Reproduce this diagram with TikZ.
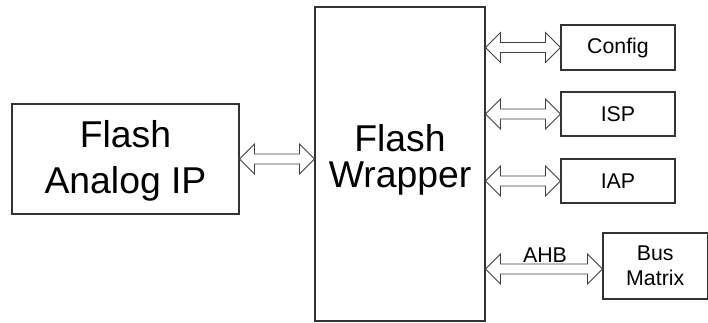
\documentclass[tikz,border=0pt]{standalone}
\usepackage{fontspec}
\setmainfont{Liberation Sans}
\usetikzlibrary{calc}
\tikzset{
  blk/.style={draw=black!80, line width=0.8pt, inner sep=0pt, fill=white},
  bigtxt/.style={font=\fontsize{28pt}{35pt}\selectfont, align=center, inner sep=0pt},
  smalltxt/.style={font=\fontsize{16pt}{19pt}\selectfont, align=center, inner sep=0pt},
  dblarr/.style={draw=black!75, line width=0.6pt, fill=white, line join=miter}
}
% double arrow polygon between two points (same y)
\newcommand{\dblarrow}[2]{%
  \path[dblarr] let \p1=(#1), \p2=(#2) in
    (\x1,\y1) -- (\x1+11.25pt,\y1+11.25pt) -- (\x1+11.25pt,\y1+3.75pt)
    -- (\x2-11.25pt,\y1+3.75pt) -- (\x2-11.25pt,\y1+11.25pt) -- (\x2,\y1)
    -- (\x2-11.25pt,\y1-11.25pt) -- (\x2-11.25pt,\y1-3.75pt)
    -- (\x1+11.25pt,\y1-3.75pt) -- (\x1+11.25pt,\y1-11.25pt) -- cycle;}
\begin{document}
\begin{tikzpicture}[x=0.75pt,y=-0.75pt]
\useasboundingbox (0,0) rectangle (708,322);
% boxes
\node[blk, minimum width=227*0.75pt, minimum height=110*0.75pt] (analog) at (125.5,159) {};
\node[bigtxt] (analogtxt) at (125.5,161) {Flash\\Analog IP};
\node[blk, minimum width=170*0.75pt, minimum height=314*0.75pt] (wrapper) at (400,164) {};
\node[bigtxt, font=\fontsize{28pt}{27pt}\selectfont] (wraptxt) at (400,160) {Flash\\Wrapper};
\node[blk, minimum width=114*0.75pt, minimum height=45*0.75pt] (config) at (618,47.5) {};
\node[smalltxt] at (config) {Config};
\node[blk, minimum width=114*0.75pt, minimum height=44*0.75pt] (isp) at (618,114) {};
\node[smalltxt] at (isp) {ISP};
\node[blk, minimum width=114*0.75pt, minimum height=44*0.75pt] (iap) at (618,181) {};
\node[smalltxt] at (iap) {IAP};
\node[blk, minimum width=104.5*0.75pt, minimum height=66*0.75pt] (bus) at (655.25,266) {};
\node[smalltxt] (bustxt) at (655.25,266) {Bus\\Matrix};
% connectors
\coordinate (busin) at ($(bus.west)+(0,3)$);
\dblarrow{analog.east}{analog.east -| wrapper.west}
\dblarrow{wrapper.east |- config.west}{config.west}
\dblarrow{wrapper.east |- isp.west}{isp.west}
\dblarrow{wrapper.east |- iap.west}{iap.west}
\dblarrow{wrapper.east |- busin}{busin}
\node[smalltxt, anchor=base] (ahb) at (545,262) {AHB};
\end{tikzpicture}
\end{document}
